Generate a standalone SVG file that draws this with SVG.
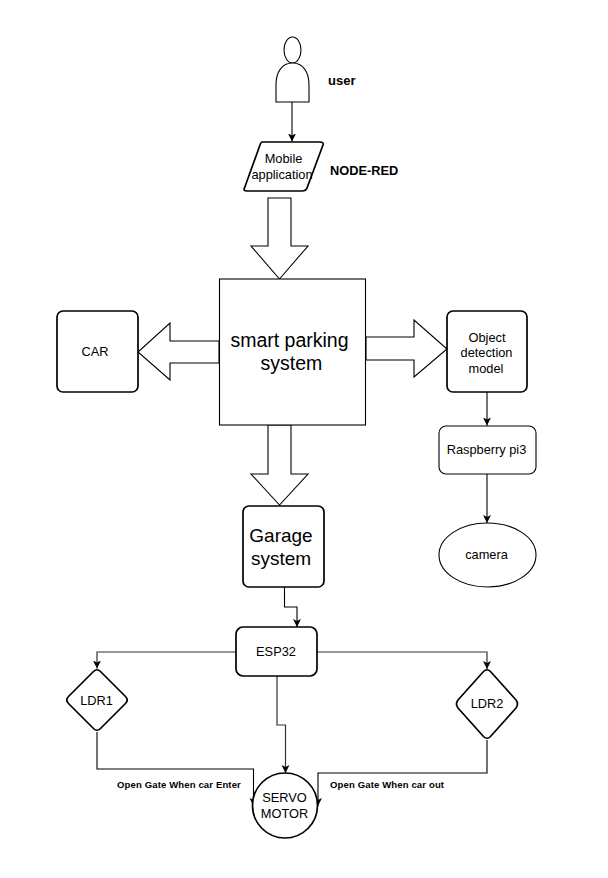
<svg xmlns="http://www.w3.org/2000/svg" width="608" height="878" viewBox="0 0 608 878">
<style>
text{font-family:"Liberation Sans",Arial,sans-serif;fill:#000;text-anchor:middle}
.n{fill:#fff;stroke:#000;stroke-width:1.7}
.t{fill:#fff;stroke:#000;stroke-width:1.1}
.c{fill:none;stroke:#000;stroke-width:1.1}
.f{fill:none;stroke:#333;stroke-width:1.2}
.b{font-weight:bold;text-anchor:start}
.s{font-size:12.800px}
</style>
<defs><marker id="a" markerUnits="userSpaceOnUse" markerWidth="10" markerHeight="10" refX="8" refY="4.500" orient="auto"><path d="M0 0.500L8 4.500L0 8.500L2 4.500Z" fill="#000"/></marker></defs>
<rect width="608" height="878" fill="#fff"/>
<g id="connectors">
<path class="c" marker-end="url(#a)" d="M292 102V141.500"/>
<path class="c" marker-end="url(#a)" d="M487 392V425.500"/>
<path class="c" marker-end="url(#a)" d="M487 474V523"/>
<path class="c" marker-end="url(#a)" d="M284.500 587V607H297V627"/>
<path class="f" marker-end="url(#a)" d="M236 652H97V668.500"/>
<path class="f" marker-end="url(#a)" d="M317 652H487V669"/>
<path class="f" marker-end="url(#a)" d="M277 676V725H285.500V773"/>
<path class="c" marker-end="url(#a)" d="M97 732V769H253.500V806"/>
<path class="c" marker-end="url(#a)" d="M487 740V773H318V806"/>
<path class="t" d="M268 198H291V246H308L279.500 279L251 246H268Z"/>
<path class="t" d="M219 341H170V323L138 352L170 380V363H219Z"/>
<path class="t" d="M366 337H414V320L447 349L414 377V360H366Z"/>
<path class="t" d="M268 425H291V474H308L279.500 505L251 474H268Z"/>
</g>
<g id="user">
<ellipse class="t" cx="292.500" cy="50" rx="8.500" ry="13"/>
<path class="t" d="M276 102V85C276 72 282 63 292.500 63C303 63 309 72 309 85V102Z"/>
<text class="b" x="328" y="85" font-size="13">user</text>
</g>
<g id="mobile">
<path class="n" d="M262 142H320Q324 142 323 145L307 188Q306 191 302 191H247Q243 191 244.500 188L260 145Q261 142 262 142Z"/>
<text class="s" x="283.500" y="163">Mobile</text>
<text class="s" x="282" y="179">application</text>
<text class="b" x="330" y="175" font-size="12.800">NODE-RED</text>
</g>
<g id="smart-parking">
<rect class="t" x="219.500" y="279" width="146" height="146"/>
<text x="289.500" y="347" font-size="19.500">smart parking</text>
<text x="291.500" y="370" font-size="19.500">system</text>
</g>
<g id="car">
<rect class="n" x="57" y="311" width="81" height="81" rx="6"/>
<text class="s" x="95" y="356">CAR</text>
</g>
<g id="object-detection">
<rect class="n" x="447" y="311" width="80" height="81" rx="6"/>
<text class="s" x="487" y="342">Object</text>
<text class="s" x="486.500" y="357">detection</text>
<text class="s" x="486" y="373">model</text>
</g>
<g id="raspberry">
<rect class="t" x="439" y="426" width="97" height="48" rx="7"/>
<text class="s" x="486.500" y="454">Raspberry pi3</text>
</g>
<g id="camera">
<ellipse class="t" cx="487.500" cy="555" rx="48.500" ry="32"/>
<text class="s" x="486.500" y="559">camera</text>
</g>
<g id="garage">
<rect class="n" x="243" y="506" width="81" height="81" rx="6"/>
<text x="281" y="542" font-size="19">Garage</text>
<text x="281" y="565" font-size="19">system</text>
</g>
<g id="esp32">
<rect class="n" x="236" y="627" width="81" height="49" rx="7"/>
<text class="s" x="276" y="656">ESP32</text>
</g>
<g id="ldr1">
<path class="n" d="M93.500 671.500Q97 668 100.500 671.500L125.500 696.500Q129 700 125.500 703.500L100.500 728.500Q97 732 93.500 728.500L68.500 703.500Q65 700 68.500 696.500Z"/>
<text class="s" x="96.500" y="705">LDR1</text>
</g>
<g id="ldr2">
<path class="n" d="M483.500 671.500Q487 668 490.500 671.500L516 700Q519 704 516 708L490.500 736.500Q487 740 483.500 736.500L458 708Q455 704 458 700Z"/>
<text class="s" x="487" y="708">LDR2</text>
</g>
<g id="servo">
<circle class="n" cx="285" cy="805.500" r="32.500"/>
<text class="s" x="284.500" y="802">SERVO</text>
<text class="s" x="284.500" y="818">MOTOR</text>
</g>
<g id="labels">
<text class="b" x="117" y="788" font-size="9.500" letter-spacing=".15">Open Gate When car Enter</text>
<text class="b" x="330" y="788" font-size="9.500" letter-spacing=".15">Open Gate When car out</text>
</g>
</svg>
